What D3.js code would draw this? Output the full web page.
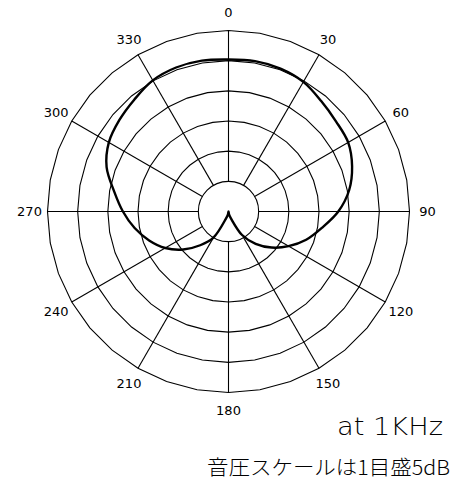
<!DOCTYPE html>
<html>
<head>
<meta charset="utf-8">
<script src="https://cdn.jsdelivr.net/npm/d3@7"></script>
<style>
body { margin: 0; background: #fff; }
</style>
</head>
<body>
<div id="chart"></div>
<script>
// polar response, angle in degrees, level in dB (0 dB = outer ring)
const angles = [0, 10, 20, 30, 40, 50, 60, 70, 80, 90, 100, 110, 120, 130, 140, 150, 160, 170,
                180, 190, 200, 210, 220, 230, 240, 250, 260, 270, 280, 290, 300, 310, 320, 330, 340, 350];
const levels = [-4.8, -4.7, -4.8, -5.2, -6.1, -6.75, -7.1, -8.2, -9.7, -11.8, -14.3, -16.3, -18.5, -20.7, -23.0, -25.5, -28.7, -29.5,
                -30.0, -29.5, -28.7, -25.0, -22.7, -20.2, -17.9, -16.0, -14.2, -12.5, -10.75, -8.5, -7.1, -6.4, -5.75, -4.9, -4.6, -4.6];

const ringLevels = [-20, -15, -10, -5, 0];
const innerLevel = -25;
const spokeAngles = [0, 30, 60, 90, 120, 150, 180, 210, 240, 270, 300, 330];
const spokeLabels = ["0", "30", "60", "90", "120", "150", "180", "210", "240", "270", "300", "330"];

const w = 453;
const h = 485;
const cx = 228.5;
const cy = 211.5;
const R = 181;

const svg = d3.select("#chart").append("svg")
    .attr("width", w)
    .attr("height", h)
    .style("background", "#fff");

const g = svg.append("g").attr("transform", `translate(${cx},${cy})`);

const r = d3.scaleLinear().domain([-30, 0]).range([0, R]);
const rad = (d) => d * Math.PI / 180;

// rings are drawn as polygons, like the plotter original
const ringStep = d3.range(0, 360, 10);
const ringLine = d3.lineRadial()
    .angle((d) => rad(d))
    .curve(d3.curveLinearClosed);

g.selectAll(".ring")
    .data(ringLevels)
    .enter()
    .append("path")
    .attr("class", "ring")
    .attr("d", (lv) => ringLine.radius(r(lv))(ringStep))
    .style("fill", "none")
    .style("stroke", "#000")
    .style("stroke-width", 1.1);

g.append("circle")
    .attr("r", r(innerLevel))
    .style("fill", "none")
    .style("stroke", "#000")
    .style("stroke-width", 1.1);

// spokes between the inner circle and the outer ring
g.selectAll(".spoke")
    .data(spokeAngles)
    .enter()
    .append("line")
    .attr("class", "spoke")
    .attr("x1", (d) => r(innerLevel) * Math.sin(rad(d)))
    .attr("y1", (d) => -r(innerLevel) * Math.cos(rad(d)))
    .attr("x2", (d) => r(0) * Math.sin(rad(d)))
    .attr("y2", (d) => -r(0) * Math.cos(rad(d)))
    .style("stroke", "#000")
    .style("stroke-width", 1.1);

const labelR = R + 18;
g.selectAll(".lbl")
    .data(spokeAngles)
    .enter()
    .append("text")
    .attr("class", "lbl")
    .attr("x", (d) => labelR * Math.sin(rad(d)))
    .attr("y", (d) => -labelR * Math.cos(rad(d)))
    .attr("text-anchor", "middle")
    .attr("dominant-baseline", "central")
    .style("font-family", "DejaVu Sans, sans-serif")
    .style("font-size", "13px")
    .text((d, i) => spokeLabels[i]);

// response curve
const pts = angles.map((a, i) => [a, levels[i]]);
const curve = d3.lineRadial()
    .angle((d) => rad(d[0]))
    .radius((d) => r(d[1]))
    .curve(d3.curveCatmullRomClosed.alpha(0.5));

g.append("path")
    .datum(pts)
    .attr("d", curve)
    .style("fill", "none")
    .style("stroke", "#000")
    .style("stroke-width", 2.4)
    .style("stroke-linejoin", "round");

svg.append("text")
    .attr("x", 337)
    .attr("y", 435)
    .attr("textLength", 106)
    .attr("lengthAdjust", "spacingAndGlyphs")
    .style("font-family", "DejaVu Sans, sans-serif")
    .style("font-size", "25px")
    .style("font-weight", "200")
    .style("fill", "#000")
    .text("at 1KHz");

svg.append("text")
    .attr("x", 207)
    .attr("y", 475)
    .attr("textLength", 243)
    .attr("lengthAdjust", "spacingAndGlyphs")
    .style("font-family", "Noto Sans CJK JP, sans-serif")
    .style("font-size", "20px")
    .style("font-weight", "300")
    .style("fill", "#000")
    .text("音圧スケールは1目盛5dB");
</script>
</body>
</html>
